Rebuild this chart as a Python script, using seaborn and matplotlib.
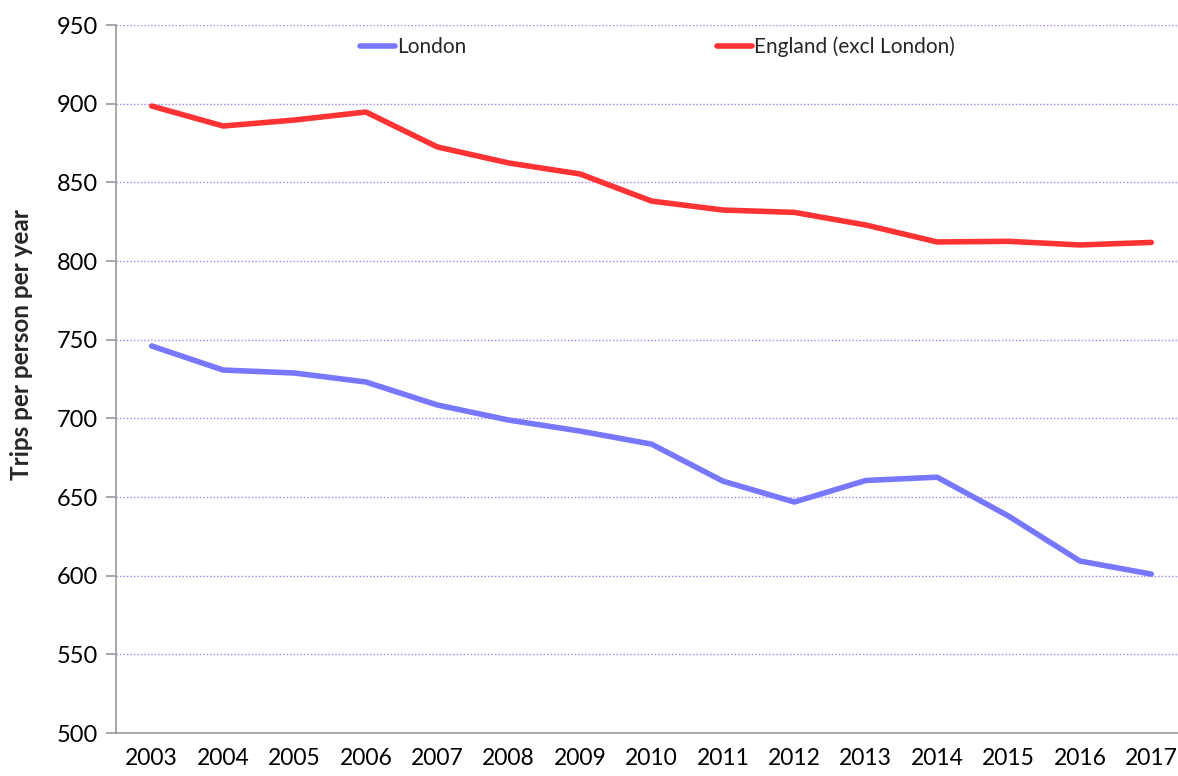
import matplotlib
matplotlib.use("Agg")
import matplotlib.pyplot as plt
import seaborn as sns
import pandas as pd
from matplotlib.ticker import FixedLocator, MultipleLocator

years = ["2003", "2004", "2005", "2006", "2007", "2008", "2009", "2010",
         "2011", "2012", "2013", "2014", "2015", "2016", "2017"]
london = [746, 730.7, 728.8, 723.1, 708.5, 698.9, 691.9, 683.6,
          660.1, 646.8, 660.5, 662.6, 637.9, 609.3, 601]
england = [898.5, 885.8, 889.6, 894.7, 872.5, 862.3, 855.3, 838.1,
           832.4, 830.9, 822.9, 812.1, 812.5, 810.2, 811.8]
series_names = ["London", "England (excl London)"]
colors = ["#7777FF", "#FF3333"]

df = pd.DataFrame({
    "year": years * 2,
    "value": london + england,
    "series": [series_names[0]] * len(years) + [series_names[1]] * len(years),
})

sns.set_style("white")
plt.rcParams["font.family"] = ["Lato", "DejaVu Sans"]

fig = plt.figure(figsize=(11.78, 7.76), dpi=100)
W, H = 1178, 776
left, right, top, bottom = 116, 1187, 25, 733
ax = fig.add_axes([left / W, 1 - bottom / H, (right - left) / W, (bottom - top) / H])

sns.lineplot(data=df, x="year", y="value", hue="series", palette=colors,
             linewidth=4, ax=ax, sort=False, legend=True)

ax.set_xlim(-0.5, len(years) - 0.5)
ax.set_ylim(500, 950)
ax.yaxis.set_major_locator(MultipleLocator(50))
ax.grid(axis="y", color="#A080FF", linestyle=(0, (1, 1.5)), linewidth=1)
ax.set_axisbelow(True)

for s in ["top", "right"]:
    ax.spines[s].set_visible(False)
for s in ["left", "bottom"]:
    ax.spines[s].set_color("#999999")
    ax.spines[s].set_linewidth(1.2)

ax.xaxis.set_minor_locator(FixedLocator([i - 0.5 for i in range(len(years) + 1)]))
ax.tick_params(axis="x", which="major", length=0, labelsize=16.5, pad=11, colors="black")
ax.tick_params(axis="x", which="minor", length=7, width=1.2, color="#999999")
ax.tick_params(axis="y", which="major", left=True, length=7, width=1.2, color="#999999",
               labelsize=17, labelcolor="black", pad=6)

ax.set_xlabel("")
ax.set_ylabel("Trips per person per year", fontsize=17.5, fontweight="bold")
ax.yaxis.set_label_coords((33 - left) / (right - left), (bottom - 345) / (bottom - top))

handles, labels = ax.get_legend_handles_labels()
leg = ax.legend(handles, labels, loc="center left", bbox_to_anchor=(360 / W, 1 - 47 / H),
                bbox_transform=fig.transFigure, ncol=2, frameon=False, fontsize=15,
                handlelength=1.7, handletextpad=0.1, columnspacing=12.0, borderpad=0,
                borderaxespad=0)

fig.savefig("out.png", dpi=100)
